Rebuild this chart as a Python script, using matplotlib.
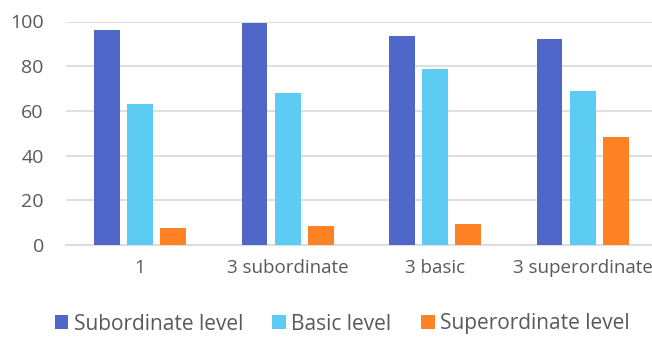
import numpy as np
import matplotlib.pyplot as plt

plt.rcParams['font.family'] = ['Open Sans', 'DejaVu Sans']

categories = ['1', '3 subordinate', '3 basic', '3 superordinate']
subordinate = [96, 99.5, 93.6, 92]
basic = [63, 68.2, 78.7, 68.7]
superordinate = [7.5, 8.6, 9.3, 48.5]

series = [('Subordinate level', subordinate, '#4F67C8'),
          ('Basic level', basic, '#5DCCF2'),
          ('Superordinate level', superordinate, '#FE8223')]

text_color = '#595959'
grid_color = '#D9D9D9'

fig = plt.figure(figsize=(6.52, 3.37), dpi=100)
ax = fig.add_axes([66 / 652, 92 / 337, 586 / 652, 223.5 / 337])

x = np.arange(len(categories))
width = 0.176
step = 0.224
for i, (name, vals, color) in enumerate(series):
    ax.bar(x + (i - 1) * step, vals, width, color=color, label=name, zorder=3)

ax.set_ylim(0, 100)
ax.set_xlim(-0.502, 3.471)
ax.set_yticks(range(0, 101, 20))
ax.set_xticks(x)
ax.set_xticklabels(categories)
ax.grid(axis='y', color=grid_color, linewidth=1.2, zorder=0)
ax.set_axisbelow(True)
for s in ['top', 'right', 'left']:
    ax.spines[s].set_visible(False)
ax.spines['bottom'].set_color(grid_color)
ax.spines['bottom'].set_linewidth(1.2)
ax.tick_params(length=0, colors=text_color)
ax.tick_params(axis='y', pad=16, labelsize=14)
ax.tick_params(axis='x', pad=10, labelsize=13.5)

handles, labels = ax.get_legend_handles_labels()
fig.legend(handles, labels, loc='center', bbox_to_anchor=(342 / 652, 1 - 324 / 337),
           ncol=3, frameon=False, fontsize=15, labelcolor=text_color,
           handlelength=0.67, handleheight=0.67, handletextpad=0.25, columnspacing=1.4)

fig.savefig('out.png', dpi=100)
